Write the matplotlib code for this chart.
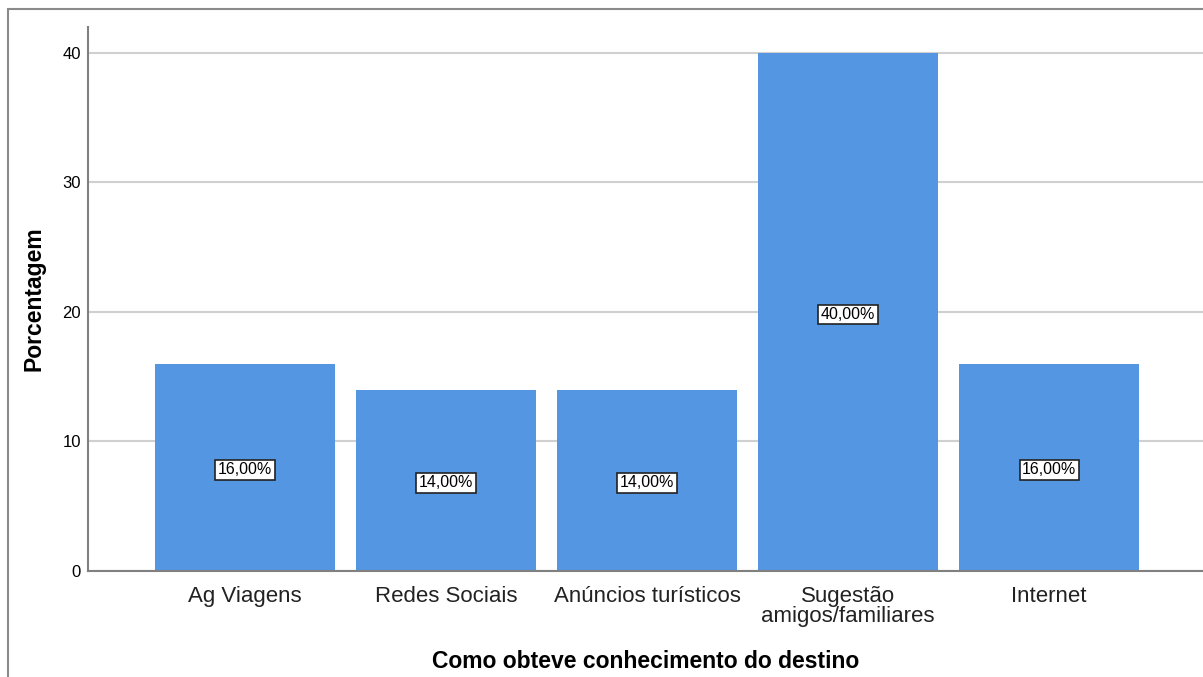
import matplotlib.pyplot as plt
from matplotlib.patches import Rectangle

plt.rcParams['font.family'] = ['Liberation Sans', 'DejaVu Sans']

# dados
categorias = ['Ag Viagens', 'Redes Sociais', 'Anúncios turísticos',
              'Sugestão\namigos/familiares', 'Internet']
porcentagens = [16, 14, 14, 40, 16]
rotulos = ['16,00%', '14,00%', '14,00%', '40,00%', '16,00%']
yticks = [0, 10, 20, 30, 40]

W, H = 1203, 677
fig = plt.figure(figsize=(W / 100, H / 100), dpi=100)

# moldura cinza cortada (estilo SPSS)
fig.patches.append(Rectangle((8 / W, -0.1), 1.2, (H - 9) / H + 0.1,
                             transform=fig.transFigure, fill=False,
                             edgecolor='#8a8a8a', linewidth=1.5))

ax = fig.add_axes([88 / W, 106 / H, 1 - 88 / W, 544 / H])
x = list(range(len(categorias)))
ax.bar(x, porcentagens, width=0.895, color='#5596e3', zorder=2)

for xi, v, lab in zip(x, porcentagens, rotulos):
    ax.text(xi, v / 2 - 0.2, lab, ha='center', va='center', fontsize=11.5,
            zorder=3,
            bbox=dict(boxstyle='square,pad=0.15', facecolor='white',
                      edgecolor='#222222', linewidth=1.2))

ax.set_xlim(-0.781, 4.766)
ax.set_ylim(0, 42)
ax.set_yticks(yticks)
ax.set_xticks(x)
ax.set_xticklabels(categorias, fontsize=16, color='#222222', linespacing=0.95)
ax.tick_params(axis='y', length=0, labelsize=12, pad=5)
ax.tick_params(axis='x', length=0, pad=11)
ax.yaxis.grid(True, color='#d0d0d0', linewidth=1.5, zorder=0)
ax.set_axisbelow(True)

for s in ['top', 'right']:
    ax.spines[s].set_visible(False)
for s in ['left', 'bottom']:
    ax.spines[s].set_color('#808080')
    ax.spines[s].set_linewidth(1.5)

ax.set_ylabel('Porcentagem', fontsize=16.5, fontweight='bold', labelpad=12)
ax.set_xlabel('Como obteve conhecimento do destino', fontsize=16.5,
              fontweight='bold', labelpad=16.5)

fig.savefig('out.png', dpi=100)
